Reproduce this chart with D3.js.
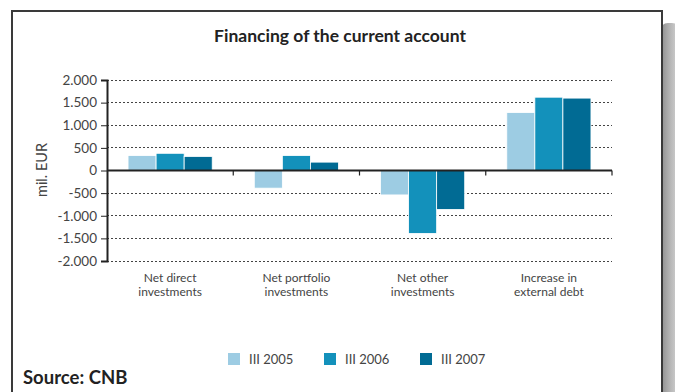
<!DOCTYPE html>
<html>
<head>
<meta charset="utf-8">
<script src="https://cdn.jsdelivr.net/npm/d3@7"></script>
<style>
  html, body { margin: 0; padding: 0; background: #fff; }
  svg { display: block; }
</style>
</head>
<body>
<svg id="chart" width="675" height="392"></svg>
<script>
// Financing of the current account, mil. EUR
const categories = [
  ["Net direct", "investments"],
  ["Net portfolio", "investments"],
  ["Net other", "investments"],
  ["Increase in", "external debt"]
];
const seriesNames = ["III 2005", "III 2006", "III 2007"];
const values2005 = [330, -390, -540, 1280];
const values2006 = [380, 330, -1390, 1620];
const values2007 = [310, 185, -860, 1600];
const yTicks = [-2000, -1500, -1000, -500, 0, 500, 1000, 1500, 2000];
const colors = ["#9dcce3", "#1391bb", "#016b94"];

const series = [values2005, values2006, values2007];

const svg = d3.select("#chart");
const font = "Lato, 'Open Sans', 'DejaVu Sans', sans-serif";

// Drop shadow on the right side of the frame
const defs = svg.append("defs");
const grad = defs.append("linearGradient").attr("id", "shade").attr("x1", 0).attr("x2", 1).attr("y1", 0).attr("y2", 0);
grad.append("stop").attr("offset", 0).attr("stop-color", "#8a8a8a");
grad.append("stop").attr("offset", 0.5).attr("stop-color", "#b5b5b5");
grad.append("stop").attr("offset", 1).attr("stop-color", "#d8d8d8");
svg.append("rect").attr("x", 660).attr("y", 23).attr("width", 20).attr("height", 400)
  .attr("rx", 8).attr("fill", "url(#shade)");

// Frame
svg.append("rect").attr("x", 12).attr("y", 11).attr("width", 650).attr("height", 400)
  .attr("fill", "#fff").attr("stroke", "#3a3a3a").attr("stroke-width", 2);

// Title
svg.append("text").attr("x", 340).attr("y", 42).attr("text-anchor", "middle")
  .attr("font-family", font).attr("font-weight", "bold").attr("font-size", 17.5)
  .attr("fill", "#222").text("Financing of the current account");

const x0 = 107, x1 = 612;
const y = d3.scaleLinear().domain([-2000, 2000]).range([261, 80]);
const xBand = d3.scaleBand().domain(d3.range(categories.length)).range([x0, x1]).paddingInner(0).paddingOuter(0);
const xSub = d3.scaleBand().domain(d3.range(series.length)).range([0, xBand.bandwidth()]).paddingOuter(0.75).paddingInner(0);

// Dashed gridlines
svg.append("g").selectAll("line").data(yTicks.filter(d => d !== 0)).join("line")
  .attr("x1", x0).attr("x2", x1)
  .attr("y1", d => y(d)).attr("y2", d => y(d))
  .attr("stroke", "#444").attr("stroke-width", 1).attr("stroke-dasharray", "2,2")
  .attr("shape-rendering", "crispEdges");

// Bars
series.forEach((vals, si) => {
  svg.append("g").selectAll("rect").data(vals).join("rect")
    .attr("x", (d, i) => xBand(i) + xSub(si))
    .attr("width", xSub.bandwidth())
    .attr("y", d => y(Math.max(0, d)))
    .attr("height", d => Math.abs(y(d) - y(0)))
    .attr("fill", colors[si])
    .attr("stroke", "#fff").attr("stroke-width", 0.8);
});

// Y axis
const yAxis = d3.axisLeft(y).tickValues(yTicks).tickSize(6).tickPadding(4)
  .tickFormat(d => d3.format(",")(d).replace(/,/g, ".").replace("−", "-"));
const gy = svg.append("g").attr("transform", `translate(${x0},0)`).call(yAxis);
gy.select(".domain").attr("stroke", "#222").attr("stroke-width", 2);
gy.selectAll(".tick line").attr("stroke", "#222").attr("stroke-width", 1);
gy.selectAll(".tick text").attr("font-family", font).attr("font-size", 13.5).attr("fill", "#444");

// Zero line with category boundary ticks
const gx = svg.append("g").attr("transform", `translate(0,${y(0)})`);
gx.append("line").attr("x1", x0).attr("x2", x1).attr("y1", 0).attr("y2", 0)
  .attr("stroke", "#222").attr("stroke-width", 2);
const boundaries = d3.range(categories.length).map(i => xBand(i) + xBand.bandwidth());
gx.selectAll("line.tk").data(boundaries).join("line").attr("class", "tk")
  .attr("x1", d => d).attr("x2", d => d).attr("y1", 0).attr("y2", 5)
  .attr("stroke", "#222").attr("stroke-width", 1.2);

// Category labels, one text per line
const catG = svg.append("g");
categories.forEach((lines, i) => {
  lines.forEach((l, k) => {
    catG.append("text").attr("x", xBand(i) + xBand.bandwidth() / 2).attr("y", 281.5 + k * 14.5)
      .attr("text-anchor", "middle").attr("font-family", font).attr("font-size", 12)
      .attr("fill", "#444").text(l);
  });
});

// Y axis title
svg.append("text").attr("transform", "translate(47,170) rotate(-90)")
  .attr("text-anchor", "middle").attr("font-family", font).attr("font-size", 14.5).attr("fill", "#444")
  .text("mil. EUR");

// Legend
const legendX = [228, 324, 420];
const lg = svg.append("g");
seriesNames.forEach((name, i) => {
  lg.append("rect").attr("x", legendX[i]).attr("y", 353).attr("width", 12).attr("height", 12).attr("fill", colors[i]);
  lg.append("text").attr("x", legendX[i] + 21).attr("y", 363.5).attr("font-family", font)
    .attr("font-size", 13).attr("fill", "#444").text(name);
});

// Source note
svg.append("text").attr("x", 23).attr("y", 384).attr("font-family", font).attr("font-weight", "bold")
  .attr("font-size", 18.5).attr("fill", "#222").text("Source: CNB");
</script>
</body>
</html>
